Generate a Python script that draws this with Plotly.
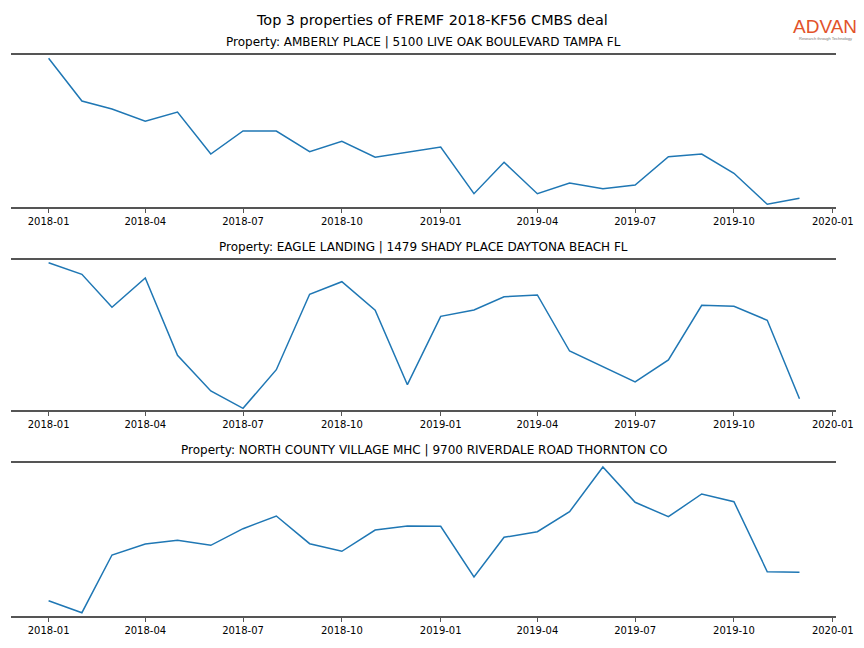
import plotly.graph_objects as go

months = ["2018-01-01", "2018-02-01", "2018-03-01", "2018-04-01", "2018-05-01", "2018-06-01",
          "2018-07-01", "2018-08-01", "2018-09-01", "2018-10-01", "2018-11-01", "2018-12-01",
          "2019-01-01", "2019-02-01", "2019-03-01", "2019-04-01", "2019-05-01", "2019-06-01",
          "2019-07-01", "2019-08-01", "2019-09-01", "2019-10-01", "2019-11-01", "2019-12-01"]

titles = ["Property: AMBERLY PLACE | 5100 LIVE OAK BOULEVARD TAMPA FL",
          "Property: EAGLE LANDING | 1479 SHADY PLACE DAYTONA BEACH FL",
          "Property: NORTH COUNTY VILLAGE MHC | 9700 RIVERDALE ROAD THORNTON CO"]

amberly = [148.4, 105.7, 97.7, 85.4, 94.7, 52.7, 75.7, 75.7, 55.0, 65.4, 49.4, 54.4,
           59.7, 13.0, 44.4, 13.0, 23.7, 18.0, 21.7, 50.0, 52.7, 33.4, 2.4, 8.4]
eagle = [147.3, 135.7, 102.7, 132.0, 54.7, 19.0, 1.7, 40.3, 115.7, 128.3, 99.7, 25.3,
         93.7, 100.0, 113.3, 115.0, 59.0, 43.3, 28.0, 50.0, 104.7, 103.7, 89.7, 11.3]
north = [15.0, 3.0, 60.7, 71.7, 75.4, 70.4, 87.0, 99.7, 72.0, 64.4, 85.7, 89.7,
         89.4, 38.7, 78.4, 84.0, 104.0, 148.7, 113.4, 99.0, 121.7, 114.0, 44.0, 43.4]

series = [amberly, eagle, north]
yranges = [[0, 151.7], [0, 150.0], [0, 153.0]]

W, H = 864, 648
x0, x1 = 11, 836
panels = [(55, 206.7), (260, 410), (462.7, 615.7)]

fig = go.Figure()
spine = "#555555"
for i, (vals, (top, bot)) in enumerate(zip(series, panels)):
    n = "" if i == 0 else str(i + 1)
    fig.add_trace(go.Scatter(x=months, y=vals, mode="lines",
                             line=dict(color="#1f77b4", width=1.5),
                             xaxis="x" + n, yaxis="y" + n, showlegend=False,
                             hoverinfo="x+y"))
    fig.update_layout(**{
        "xaxis" + n: dict(domain=[x0 / W, x1 / W], anchor="y" + n, type="date",
                          range=["2017-11-27", "2020-01-04"], automargin=False,
                          tick0="2018-01-01", dtick="M3", tickformat="%Y-%m",
                          ticks="outside", ticklen=4, tickwidth=1, tickcolor=spine,
                          showline=True, mirror=True, linecolor=spine, linewidth=2,
                          showgrid=False, zeroline=False,
                          tickfont=dict(family="DejaVu Sans", size=10, color="black")),
        "yaxis" + n: dict(domain=[1 - bot / H, 1 - top / H], anchor="x" + n, automargin=False,
                          range=yranges[i], showticklabels=False, showgrid=False,
                          zeroline=False, showline=False, ticks=""),
    })
    fig.add_annotation(text=titles[i], x=0.5 * (x0 + x1) / W, y=1 - (top - 13) / H,
                       xref="paper", yref="paper", xanchor="center", yanchor="middle",
                       showarrow=False, font=dict(family="DejaVu Sans", size=12, color="black"))

fig.add_annotation(text="Top 3 properties of FREMF 2018-KF56 CMBS deal", x=432 / W, y=1 - 20 / H,
                   xref="paper", yref="paper", xanchor="center", yanchor="middle",
                   showarrow=False, font=dict(family="DejaVu Sans", size=14.4, color="black"))
fig.add_annotation(text="ADVAN", x=825 / W, y=1 - 27 / H, xref="paper", yref="paper",
                   xanchor="center", yanchor="middle", showarrow=False,
                   font=dict(family="Liberation Sans", size=19, color="#E2532B"))
fig.add_annotation(text="Research through Technology", x=825 / W, y=1 - 38.5 / H, xref="paper", yref="paper",
                   xanchor="center", yanchor="middle", showarrow=False,
                   font=dict(family="Liberation Sans", size=4, color="#777777"))

fig.update_layout(width=W, height=H, margin=dict(l=0, r=0, t=0, b=0, autoexpand=False),
                  paper_bgcolor="white", plot_bgcolor="white")

post = ("document.documentElement.style.overflow='hidden';"
        "document.body.style.margin='0';document.body.style.overflow='hidden';")
fig.write_html("out.html", config={"displayModeBar": False}, post_script=post)
